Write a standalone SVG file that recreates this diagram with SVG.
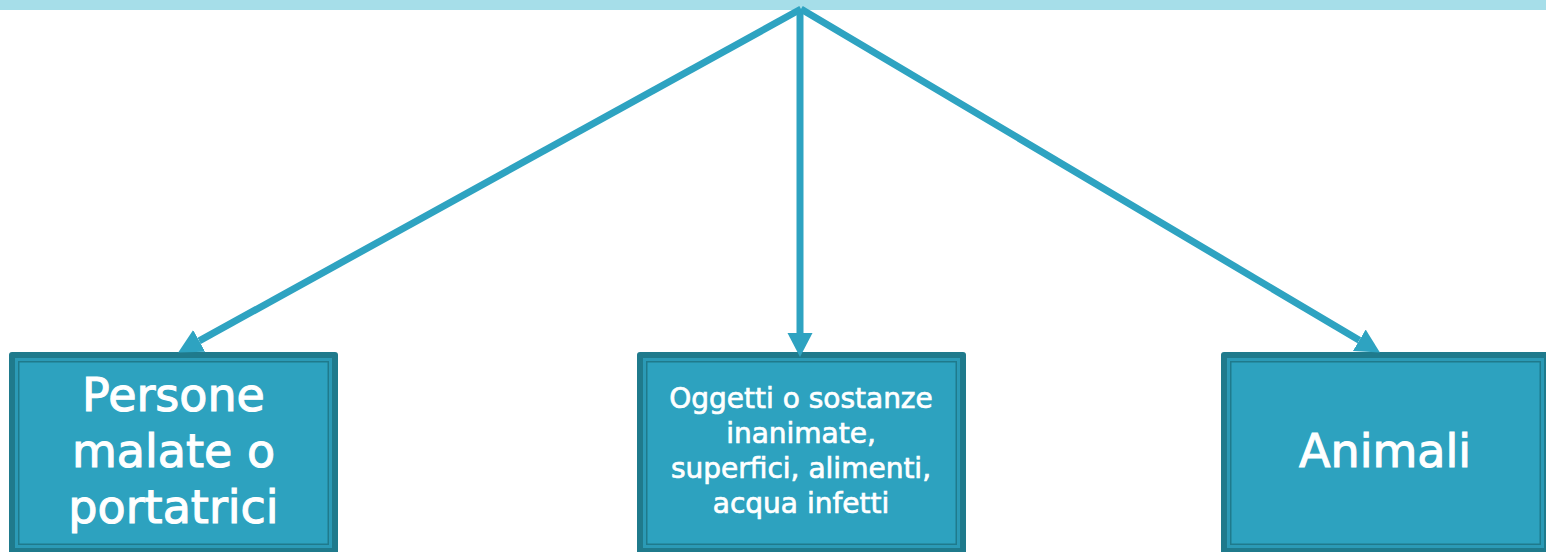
<svg xmlns="http://www.w3.org/2000/svg" width="1546" height="552" viewBox="0 0 1546 552">
<style>
.outer{fill:#1f7a8c}
.band{fill:#2b9ab6}
.inner{fill:#2da2bf;stroke:#1f7a8c;stroke-width:1.5}
.t{fill:#ffffff;stroke:#ffffff;font-family:"DejaVu Sans",sans-serif;text-anchor:middle}
.big{font-size:46px;stroke-width:1.1}
.small{font-size:28px;stroke-width:0.7}
.conn{stroke:#2ea3c1;stroke-width:7;fill:none}
</style>
<defs>
<marker id="ah" markerUnits="userSpaceOnUse" markerWidth="26" markerHeight="28" viewBox="0 -14 26 28" refX="0" refY="0" orient="auto">
<path d="M0,-12.5 L24,0 L0,12.5 z" fill="#2ea3c1"/>
</marker>
</defs>
<rect x="0" y="0" width="1546" height="10" fill="#a6dee9"/>
<g id="node-persone">
<rect class="outer" x="9" y="352" width="329" height="202" rx="3"/>
<rect class="band" x="15" y="358" width="317" height="190"/>
<rect class="inner" x="18.75" y="361.75" width="309.5" height="182.5"/>
<text class="t big" x="173.5" y="411">Persone</text>
<text class="t big" x="173.5" y="467">malate o</text>
<text class="t big" x="173.5" y="523">portatrici</text>
</g>
<g id="node-oggetti">
<rect class="outer" x="637" y="352" width="329" height="202" rx="3"/>
<rect class="band" x="643" y="358" width="317" height="190"/>
<rect class="inner" x="646.75" y="361.75" width="309.5" height="182.5"/>
<text class="t small" x="801" y="408">Oggetti o sostanze</text>
<text class="t small" x="801" y="443">inanimate,</text>
<text class="t small" x="801" y="478">superfici, alimenti,</text>
<text class="t small" x="801" y="513">acqua infetti</text>
</g>
<g id="node-animali">
<rect class="outer" x="1221" y="352" width="329" height="202" rx="3"/>
<rect class="band" x="1227" y="358" width="317" height="190"/>
<rect class="inner" x="1230.75" y="361.75" width="309.5" height="182.5"/>
<text class="t big" x="1385" y="467">Animali</text>
</g>
<g id="connectors">
<line class="conn" x1="801" y1="9" x2="199.2" y2="340.9" marker-end="url(#ah)"/>
<line class="conn" x1="800" y1="9" x2="800" y2="333" marker-end="url(#ah)"/>
<line class="conn" x1="801" y1="9" x2="1359.3" y2="340.3" marker-end="url(#ah)"/>
</g>
</svg>
